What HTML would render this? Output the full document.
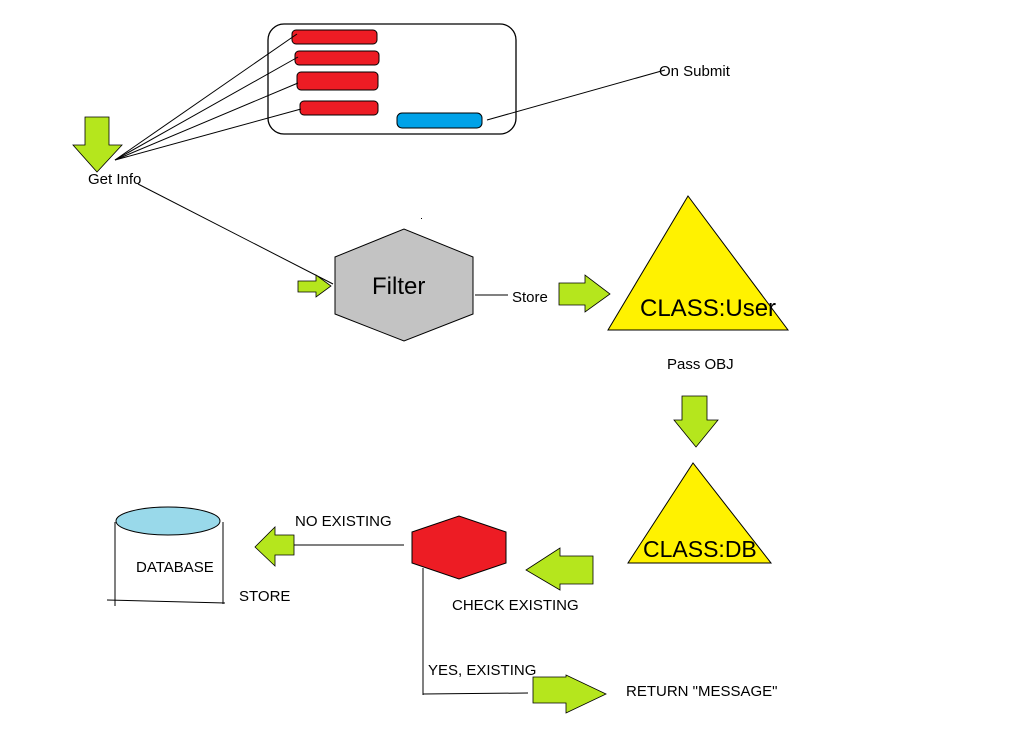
<!DOCTYPE html>
<html><head><meta charset="utf-8"><style>html,body{margin:0;padding:0;background:#fff}svg{display:block}text{font-family:"Liberation Sans",sans-serif;fill:#000}</style></head>
<body>
<svg width="1035" height="748" viewBox="0 0 1035 748" xmlns="http://www.w3.org/2000/svg">
<rect x="268" y="24" width="248" height="110" rx="16" fill="none" stroke="#000" stroke-width="1.3"/>
<g fill="#ed1c24" stroke="#000" stroke-width="1">
<rect x="292" y="30" width="85" height="14" rx="4"/>
<rect x="295" y="51" width="84" height="14" rx="4"/>
<rect x="297" y="72" width="81" height="18" rx="4"/>
<rect x="300" y="101" width="78" height="14" rx="4"/>
</g>
<rect x="397" y="113" width="85" height="15" rx="5" fill="#00a2e8" stroke="#000"/>
<g stroke="#000" stroke-width="1" fill="none">
<line x1="115" y1="160" x2="297" y2="34"/>
<line x1="115" y1="160" x2="298" y2="57"/>
<line x1="115" y1="160" x2="298" y2="83"/>
<line x1="115" y1="160" x2="301" y2="109"/>
<line x1="487" y1="120" x2="665" y2="70"/>
<line x1="138" y1="184" x2="333" y2="284"/>
<line x1="475" y1="295" x2="508" y2="295"/>
<line x1="404" y1="545" x2="294" y2="545"/>
<line x1="423" y1="568" x2="423" y2="695"/>
<line x1="423" y1="694" x2="528" y2="693"/>
<line x1="115" y1="522" x2="115" y2="606"/>
<line x1="223" y1="522" x2="223" y2="604"/>
<line x1="107" y1="600" x2="225" y2="603"/>
</g>
<g fill="#b5e61d" stroke="#000" stroke-width="0.8">
<polygon points="85,117 109,117 109,145 122,145 97,172 73,145 85,145"/>
<polygon points="298,281 316,281 316,275 331,286 316,297 316,292 298,292"/>
<polygon points="559,283 585,283 585,275 610,294 585,312 585,305 559,305"/>
<polygon points="682,396 707,396 707,420 718,420 696,447 674,420 682,420"/>
<polygon points="593,556 560,556 560,548 526,570 560,590 560,584 593,584"/>
<polygon points="294,535 275,535 275,527 255,547 275,566 275,555 294,555"/>
<polygon points="533,677 566,677 566,675 606,694 566,713 566,703 533,703"/>
</g>
<polygon points="335,257 404,229 473,257 473,314 404,341 335,314" fill="#c3c3c3" stroke="#000"/>
<polygon points="688,196 608,330 788,330" fill="#fff200" stroke="#000"/>
<polygon points="693,463 628,563 771,563" fill="#fff200" stroke="#000"/>
<polygon points="412,532 459,516 506,532 506,563 459,579 412,563" fill="#ed1c24" stroke="#000"/>
<ellipse cx="168" cy="521" rx="52" ry="14" fill="#99d9ea" stroke="#000"/>
<rect x="421" y="218" width="1" height="1" fill="#000"/>
<text x="88" y="184" font-size="15">Get Info</text>
<text x="659" y="76" font-size="15">On Submit</text>
<text x="372" y="294" font-size="24">Filter</text>
<text x="512" y="302" font-size="15">Store</text>
<text x="640" y="316" font-size="24">CLASS:User</text>
<text x="667" y="369" font-size="15">Pass OBJ</text>
<text x="643" y="557" font-size="23">CLASS:DB</text>
<text x="295" y="526" font-size="15">NO EXISTING</text>
<text x="136" y="572" font-size="15">DATABASE</text>
<text x="239" y="601" font-size="15">STORE</text>
<text x="452" y="610" font-size="15">CHECK  EXISTING</text>
<text x="428" y="675" font-size="15">YES, EXISTING</text>
<text x="626" y="696" font-size="15">RETURN "MESSAGE"</text>
</svg>
</body></html>
